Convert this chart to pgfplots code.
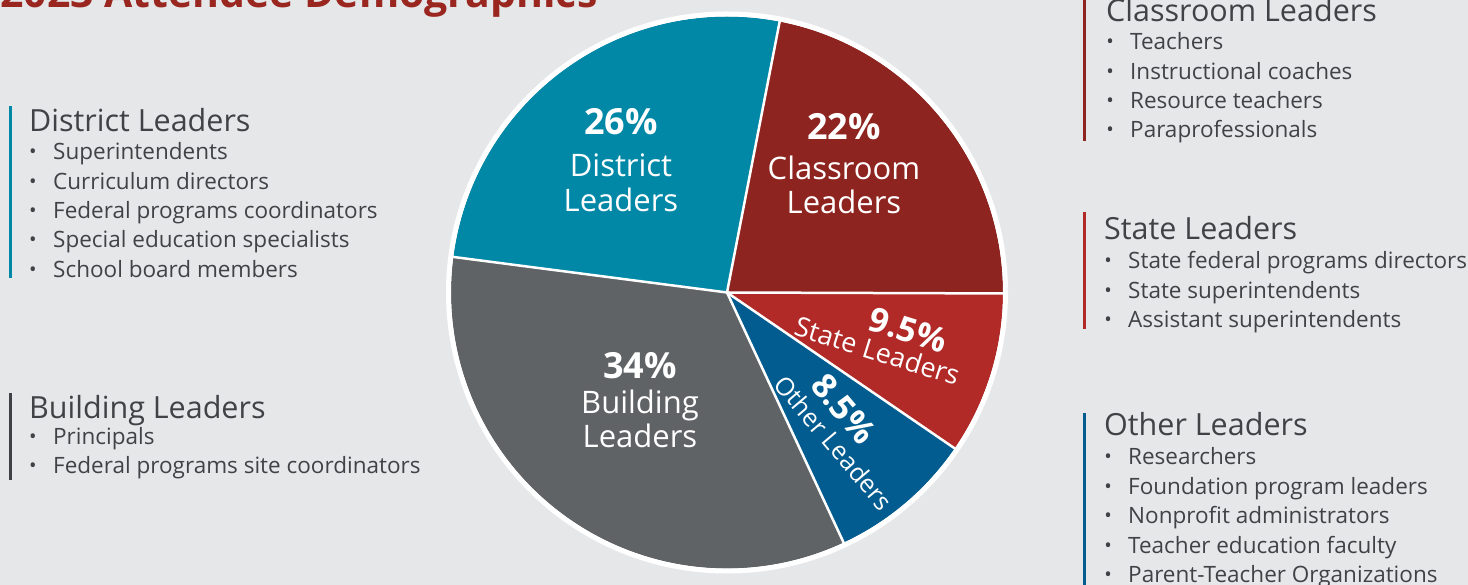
\documentclass[border=0pt]{standalone}
\usepackage{pgfplots}
\usepackage{pgfplotstable}
\pgfplotsset{compat=1.18}
\usepackage{fontspec}
\setmainfont{Open Sans}
\definecolor{bg}{HTML}{E6E7E9}
\definecolor{cteal}{HTML}{0288A7}
\definecolor{cdred}{HTML}{8E241F}
\definecolor{cred}{HTML}{B12A27}
\definecolor{cblue}{HTML}{035C8F}
\definecolor{cgray}{HTML}{5F6366}
\definecolor{cbar}{HTML}{3F4245}
\definecolor{ctext}{HTML}{404245}
\definecolor{ctitle}{HTML}{9A2620}

\pgfplotstableread{
label value col
Classroom 22 cdred
State 9.5 cred
Other 8.5 cblue
Building 34 cgray
District 26 cteal
}\piedata

\newcommand{\head}[3]{\node[anchor=base west, inner sep=0pt, text=ctext, font=\fontsize{30.5}{30.5}\selectfont] at (#1pt, 585pt-#2pt) {#3};}
\newcommand{\li}[3]{\node[anchor=base west, inner sep=0pt, text=ctext, font=\fontsize{22.5}{22.5}\selectfont] at (#1pt, 585pt-#2pt) {#3};
  \node[inner sep=0pt, text=ctext, font=\fontsize{20}{20}\selectfont] at (#1pt-20pt, 585pt-#2pt+6pt) {•};}
\newcommand{\slab}[4]{\node[anchor=base, inner sep=0pt, text=white, font=#4] at (#1pt, 585pt-#2pt) {#3};}

\begin{document}
\begin{tikzpicture}
\useasboundingbox (0,0) rectangle (1468pt,585pt);
\fill[bg] (0,0) rectangle (1468pt,585pt);
% title (cut off at top)
\node[anchor=base west, inner sep=0pt, text=ctitle, font=\fontsize{41}{41}\selectfont\bfseries] at (0pt,577pt) {2023 Attendee Demographics};

\begin{axis}[hide axis, scale only axis, clip=false,
  x=276pt, y=276pt, xmin=-1.1, xmax=1.1, ymin=-1.1, ymax=1.1,
  at={(727pt,292.5pt)}, anchor=center]
\pgfplotsextra{
  \xdef\curang{79}
  \foreach \i in {0,...,4}{
    \pgfplotstablegetelem{\i}{value}\of\piedata \let\v\pgfplotsretval
    \pgfplotstablegetelem{\i}{col}\of\piedata \let\cc\pgfplotsretval
    \pgfmathsetmacro{\sa}{\curang}
    \pgfmathsetmacro{\ea}{\curang-3.6*\v}
    \fill[fill=\cc] (axis cs:0,0) -- ++(\sa:276pt) arc[start angle=\sa, end angle=\ea, radius=276pt] -- cycle;
    \xdef\curang{\ea}
  }
  \xdef\curang{79}
  \foreach \i in {0,...,4}{
    \pgfplotstablegetelem{\i}{value}\of\piedata \let\v\pgfplotsretval
    \draw[white, line width=2.5pt] (axis cs:0,0) -- ++(\curang:277pt);
    \pgfmathsetmacro{\ea}{\curang-3.6*\v}
    \xdef\curang{\ea}
  }
  \draw[white, line width=5pt] (axis cs:0,0) circle[radius=278.5pt];
}
\end{axis}

% slice labels
\slab{621}{135}{26\%}{\fontsize{36}{36}\selectfont\bfseries}
\slab{621}{176.8}{District}{\fontsize{31}{31}\selectfont}
\slab{621}{211.6}{Leaders}{\fontsize{31}{31}\selectfont}
\slab{844}{139.8}{22\%}{\fontsize{36}{36}\selectfont\bfseries}
\slab{844}{179.4}{Classroom}{\fontsize{31}{31}\selectfont}
\slab{844}{213.8}{Leaders}{\fontsize{31}{31}\selectfont}
\slab{640}{379}{34\%}{\fontsize{36}{36}\selectfont\bfseries}
\slab{640}{413.6}{Building}{\fontsize{31}{31}\selectfont}
\slab{640}{447.6}{Leaders}{\fontsize{31}{31}\selectfont}
\node[rotate=-17.3, anchor=base, inner sep=0pt, text=white, font=\fontsize{34}{34}\selectfont\bfseries] at (904.5pt, 585pt-341.5pt) {9.5\%};
\node[rotate=-17.3, anchor=base, inner sep=0pt, text=white, font=\fontsize{27}{27}\selectfont] at (874.3pt, 585pt-360.4pt) {State Leaders};
\node[rotate=-49.7, anchor=base, inner sep=0pt, text=white, font=\fontsize{34}{34}\selectfont\bfseries] at (834.6pt, 585pt-416.3pt) {8.5\%};
\node[rotate=-49.7, anchor=base, inner sep=0pt, text=white, font=\fontsize{25}{25}\selectfont] at (826.6pt, 585pt-448.7pt) {Other Leaders};

% left lists
\fill[cteal] (8.5pt,585pt-106pt) rectangle (11.5pt,585pt-278pt);
\head{29}{131.7}{District Leaders}
\li{53}{160}{Superintendents}
\li{53}{189.3}{Curriculum directors}
\li{53}{218.6}{Federal programs coordinators}
\li{53}{247.9}{Special education specialists}
\li{53}{277.2}{School board members}

\fill[cbar] (8.5pt,585pt-393pt) rectangle (11.5pt,585pt-480pt);
\head{29}{419}{Building Leaders}
\li{53}{445}{Principals}
\li{53}{474}{Federal programs site coordinators}

% right lists
\fill[cdred] (1083pt,585pt) rectangle (1086pt,585pt-141.5pt);
\head{1106}{21.7}{Classroom Leaders}
\li{1130}{50}{Teachers}
\li{1130}{79.2}{Instructional coaches}
\li{1130}{108.4}{Resource teachers}
\li{1130}{137.6}{Paraprofessionals}

\fill[cred] (1083pt,585pt-212pt) rectangle (1086pt,585pt-329pt);
\head{1104}{240}{State Leaders}
\li{1128}{269}{State federal programs directors}
\li{1128}{298.3}{State superintendents}
\li{1128}{327.6}{Assistant superintendents}

\fill[cblue] (1083pt,585pt-413pt) rectangle (1086pt,0pt);
\head{1104}{436}{Other Leaders}
\li{1128}{465}{Researchers}
\li{1128}{494.4}{Foundation program leaders}
\li{1128}{523.8}{Nonprofit administrators}
\li{1128}{553.2}{Teacher education faculty}
\li{1128}{582.6}{Parent-Teacher Organizations}
\end{tikzpicture}
\end{document}
